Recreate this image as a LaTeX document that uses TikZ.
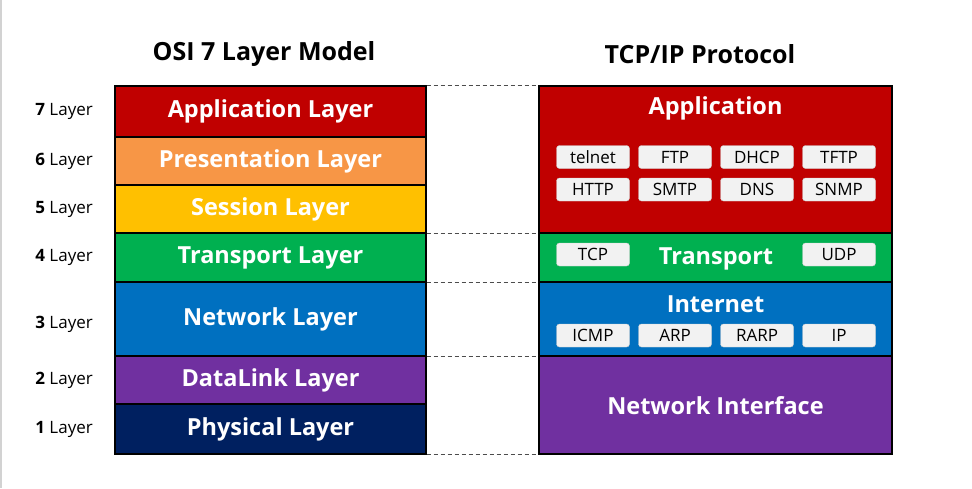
\documentclass[tikz,border=0pt]{standalone}
\usepackage{fontspec}
\setmainfont{Open Sans}
\usetikzlibrary{positioning}
\definecolor{appred}{RGB}{192,0,0}
\definecolor{presorange}{RGB}{247,150,70}
\definecolor{sessyellow}{RGB}{255,192,0}
\definecolor{transgreen}{RGB}{0,176,80}
\definecolor{netblue}{RGB}{0,112,192}
\definecolor{linkpurple}{RGB}{112,48,160}
\definecolor{physnavy}{RGB}{0,32,96}
\definecolor{protogray}{RGB}{242,242,242}

\begin{document}
\begin{tikzpicture}[
  x=1pt,y=-1pt,
  osi/.style={draw=black,line width=1.4pt,minimum width=311pt,inner sep=0pt,text=white,
    font=\fontsize{23.5}{25}\selectfont\bfseries},
  tcp/.style={draw=black,line width=1.4pt,minimum width=353pt,inner sep=0pt},
  tcpname/.style={text=white,inner sep=0pt,font=\fontsize{23.5}{25}\selectfont\bfseries},
  proto/.style={fill=protogray,draw=gray!40,line width=0.4pt,rounded corners=3pt,
    minimum width=73pt,minimum height=23pt,inner sep=0pt,font=\fontsize{17}{19}\selectfont},
  num/.style={anchor=east,inner sep=0pt,font=\fontsize{17}{19}\selectfont},
  title/.style={inner sep=0pt,font=\fontsize{25}{27}\selectfont\bfseries},
  sep/.style={line width=0.8pt,gray!60!black,dash pattern=on 4pt off 3pt}
]
  \useasboundingbox (0,0) rectangle (972,488);
  \draw[gray!35,line width=2pt] (1,0) -- (1,488);

  % titles
  \node[title] (osititle) at (264,54) {OSI 7 Layer Model};
  \node[title] (tcptitle) at (700,54) {TCP/IP Protocol};

  % OSI stack
  \node[osi,fill=appred,minimum height=51pt] (app) at (270.5,111.5) {Application Layer};
  \node[osi,fill=presorange,minimum height=48pt] (pres) at (270.5,161) {Presentation Layer};
  \node[osi,fill=sessyellow,minimum height=48pt] (sess) at (270.5,209) {Session Layer};
  \node[osi,fill=transgreen,minimum height=49pt] (trans) at (270.5,257.5) {Transport Layer};
  \node[osi,fill=netblue,minimum height=74pt] (net) at (270.5,319) {Network Layer};
  \node[osi,fill=linkpurple,minimum height=48pt] (link) at (270.5,380) {DataLink Layer};
  \node[osi,fill=physnavy,minimum height=50pt] (phys) at (270.5,429) {Physical Layer};

  % layer numbers
  \node[num] (n7) at (93,111.5) {\textbf{7} Layer};
  \node[num] (n6) at (93,161) {\textbf{6} Layer};
  \node[num] (n5) at (93,209) {\textbf{5} Layer};
  \node[num] (n4) at (93,257.5) {\textbf{4} Layer};
  \node[num] (n3) at (93,324) {\textbf{3} Layer};
  \node[num] (n2) at (93,380) {\textbf{2} Layer};
  \node[num] (n1) at (93,429) {\textbf{1} Layer};

  % TCP/IP stack
  \node[tcp,fill=appred,minimum height=147pt] (tapp) at (715.5,159.5) {};
  \node[tcp,fill=transgreen,minimum height=49pt] (ttrans) at (715.5,257.5) {};
  \node[tcp,fill=netblue,minimum height=74pt] (tnet) at (715.5,319) {};
  \node[tcp,fill=linkpurple,minimum height=98pt] (tlink) at (715.5,405) {};

  \node[tcpname] (tappname) at (715.5,108) {Application};
  \node[tcpname] (ttransname) at (716,259) {Transport};
  \node[tcpname] (tnetname) at (715.5,304) {Internet};
  \node[tcpname] (tlinkname) at (715.5,406) {Network Interface};

  \node[proto] (telnet) at (593,157) {telnet};
  \node[proto] (ftp) at (675,157) {FTP};
  \node[proto] (dhcp) at (757,157) {DHCP};
  \node[proto] (tftp) at (839,157) {TFTP};
  \node[proto] (http) at (593,189.5) {HTTP};
  \node[proto] (smtp) at (675,189.5) {SMTP};
  \node[proto] (dns) at (757,189.5) {DNS};
  \node[proto] (snmp) at (839,189.5) {SNMP};

  \node[proto] (tcpbox) at (593,254.5) {TCP};
  \node[proto] (udp) at (839,254.5) {UDP};

  \node[proto] (icmp) at (593,335.5) {ICMP};
  \node[proto] (arp) at (675,335.5) {ARP};
  \node[proto] (rarp) at (757,335.5) {RARP};
  \node[proto] (ip) at (839,335.5) {IP};

  % dashed guides between the models
  \draw[sep] (app.north east) -- (tapp.north west);
  \draw[sep] (sess.south east) -- (tapp.south west);
  \draw[sep] (trans.south east) -- (ttrans.south west);
  \draw[sep] (net.south east) -- (tnet.south west);
  \draw[sep] (phys.south east) -- (tlink.south west);
\end{tikzpicture}
\end{document}
